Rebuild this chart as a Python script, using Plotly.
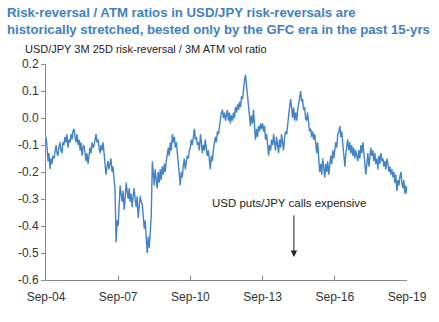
import pandas as pd
import plotly.graph_objects as go

# Semi-monthly observations (1st and 15th), Sep-2004 .. Sep-2019
rr_atm_ratio = [
    # Sep04-Aug05
    -0.07, -0.10, -0.16, -0.13, -0.19, -0.15, -0.17, -0.14, -0.15, -0.12, -0.10, -0.13,
    -0.14, -0.11, -0.09, -0.12, -0.13, -0.09, -0.10, -0.07, -0.09, -0.06, -0.11, -0.08,
    # Sep05-Aug06
    -0.09, -0.06, -0.08, -0.05, -0.04, -0.07, -0.09, -0.06, -0.10, -0.08, -0.12, -0.09,
    -0.14, -0.11, -0.10, -0.13, -0.16, -0.13, -0.17, -0.14, -0.11, -0.13, -0.09, -0.11,
    # Sep06-Aug07
    -0.10, -0.08, -0.06, -0.09, -0.08, -0.11, -0.13, -0.10, -0.12, -0.09, -0.14, -0.17,
    -0.21, -0.18, -0.16, -0.19, -0.17, -0.15, -0.20, -0.18, -0.23, -0.26, -0.46, -0.38,
    # Sep07-Aug08
    -0.40, -0.30, -0.25, -0.28, -0.31, -0.27, -0.34, -0.30, -0.24, -0.27, -0.30, -0.26,
    -0.31, -0.28, -0.33, -0.29, -0.26, -0.30, -0.33, -0.29, -0.37, -0.33, -0.29, -0.31,
    # Sep08-Aug09
    -0.32, -0.36, -0.41, -0.38, -0.47, -0.50, -0.44, -0.48, -0.42, -0.36, -0.16, -0.20,
    -0.25, -0.19, -0.22, -0.26, -0.20, -0.24, -0.19, -0.23, -0.18, -0.21, -0.17, -0.20,
    # Sep09-Aug10
    -0.16, -0.13, -0.11, -0.14, -0.09, -0.12, -0.06, -0.09, -0.07, -0.11, -0.09, -0.13,
    -0.17, -0.21, -0.25, -0.20, -0.22, -0.18, -0.15, -0.19, -0.17, -0.14, -0.15, -0.12,
    # Sep10-Aug11
    -0.11, -0.08, -0.10, -0.06, -0.04, -0.08, -0.07, -0.10, -0.09, -0.12, -0.06, -0.09,
    -0.13, -0.10, -0.12, -0.08, -0.11, -0.14, -0.12, -0.16, -0.19, -0.14, -0.16, -0.12,
    # Sep11-Aug12
    -0.10, -0.07, -0.09, -0.05, -0.06, -0.03, -0.01, 0.02, 0.03, 0.00, 0.02, -0.01,
    0.01, 0.03, -0.01, 0.02, -0.02, 0.01, -0.01, 0.02, 0.00, 0.04, 0.02, 0.05,
    # Sep12-Aug13
    0.03, 0.06, 0.04, 0.08, 0.07, 0.11, 0.14, 0.16, 0.12, 0.09, 0.06, 0.02,
    -0.03, 0.01, -0.02, 0.03, -0.05, -0.08, -0.04, -0.07, -0.03, -0.05, -0.02, -0.04,
    # Sep13-Aug14
    -0.02, -0.05, -0.03, -0.08, -0.06, -0.11, -0.14, -0.10, -0.12, -0.08, -0.10, -0.06,
    -0.09, -0.12, -0.07, -0.10, -0.13, -0.08, -0.11, -0.06, -0.09, -0.12, -0.07, -0.05,
    # Sep14-Aug15
    -0.06, -0.02, 0.01, 0.04, 0.07, 0.03, 0.00, 0.04, -0.01, 0.02, -0.01, 0.03,
    0.05, 0.08, 0.10, 0.06, 0.07, 0.03, 0.04, 0.00, -0.01, 0.02, -0.02, -0.05,
    # Sep15-Aug16
    -0.04, -0.07, -0.05, -0.08, -0.06, -0.10, -0.13, -0.09, -0.15, -0.20, -0.17, -0.21,
    -0.15, -0.19, -0.22, -0.17, -0.20, -0.16, -0.21, -0.18, -0.14, -0.17, -0.12, -0.15,
    # Sep16-Aug17
    -0.12, -0.09, -0.11, -0.06, -0.05, -0.03, -0.07, -0.05, -0.10, -0.14, -0.18, -0.13,
    -0.10, -0.08, -0.12, -0.09, -0.13, -0.10, -0.14, -0.11, -0.15, -0.12, -0.14, -0.16,
    # Sep17-Aug18
    -0.12, -0.15, -0.10, -0.13, -0.09, -0.12, -0.17, -0.21, -0.16, -0.13, -0.18, -0.15,
    -0.11, -0.14, -0.12, -0.16, -0.13, -0.17, -0.15, -0.19, -0.14, -0.17, -0.13, -0.16,
    # Sep18-Aug19
    -0.15, -0.18, -0.16, -0.19, -0.15, -0.17, -0.20, -0.18, -0.21, -0.19, -0.22, -0.20,
    -0.24, -0.21, -0.27, -0.23, -0.25, -0.22, -0.20, -0.24, -0.26, -0.23, -0.28, -0.25,
    # Sep19
    -0.28,
]
dates = pd.date_range("2004-09-01", periods=len(rr_atm_ratio), freq="SMS")

x_tick_vals = ["2004-09-01", "2007-09-01", "2010-09-01", "2013-09-01", "2016-09-01", "2019-09-01"]
x_tick_text = ["Sep-04", "Sep-07", "Sep-10", "Sep-13", "Sep-16", "Sep-19"]
y_tick_vals = [0.2, 0.1, 0.0, -0.1, -0.2, -0.3, -0.4, -0.5, -0.6]
y_tick_text = ["0.2", "0.1", "0.0", "-0.1", "-0.2", "-0.3", "-0.4", "-0.5", "-0.6"]

FONT = "Liberation Sans, Arial, sans-serif"

fig = go.Figure()
fig.add_trace(go.Scatter(x=dates, y=rr_atm_ratio, mode="lines",
                         line=dict(color="#4283c8", width=1.4), hoverinfo="skip"))

fig.add_annotation(xref="paper", yref="paper", x=-0.113, y=1.197, xanchor="left", yanchor="middle",
                   text="<b>Risk-reversal / ATM ratios in USD/JPY risk-reversals are<br>historically stretched, bested only by the GFC era in the past 15-yrs</b>",
                   showarrow=False, align="left",
                   font=dict(family=FONT, size=13.2, color="#3f7fc4"))
fig.add_annotation(xref="paper", yref="paper", x=-0.063, y=1.069, xanchor="left", yanchor="middle",
                   text="USD/JPY 3M 25D risk-reversal / 3M ATM vol ratio",
                   showarrow=False, font=dict(family=FONT, size=11, color="#222222"))
fig.add_annotation(xref="x", yref="y", x="2014-10-01", y=-0.315, xanchor="center", yanchor="middle",
                   text="USD puts/JPY calls expensive", showarrow=False,
                   font=dict(family=FONT, size=11.5, color="#222222"))
fig.add_annotation(xref="x", yref="y", axref="x", ayref="y",
                   x="2014-12-20", y=-0.515, ax="2014-12-20", ay=-0.355,
                   text="", showarrow=True, arrowhead=2, arrowsize=1.3, arrowwidth=1,
                   arrowcolor="#222222")

fig.update_layout(
    width=439, height=322,
    margin=dict(l=46, r=28, t=64, b=42),
    paper_bgcolor="white", plot_bgcolor="white",
    showlegend=False,
    font=dict(family=FONT, size=12, color="#333333"),
)
fig.update_xaxes(type="date", range=["2004-09-01", "2019-09-01"],
                 tickvals=x_tick_vals, ticktext=x_tick_text,
                 showgrid=False, zeroline=False, showline=True, linecolor="#888888", linewidth=1,
                 ticks="inside", ticklen=4, tickcolor="#888888", ticklabelstandoff=6,
                 tickfont=dict(family=FONT, size=12, color="#333333"))
fig.update_yaxes(range=[-0.6, 0.2], tickvals=y_tick_vals, ticktext=y_tick_text,
                 showgrid=False, zeroline=False, showline=True, linecolor="#888888", linewidth=1,
                 ticks="outside", ticklen=4, tickcolor="#888888",
                 tickfont=dict(family=FONT, size=12, color="#333333"))

fig.write_html("out.html")
